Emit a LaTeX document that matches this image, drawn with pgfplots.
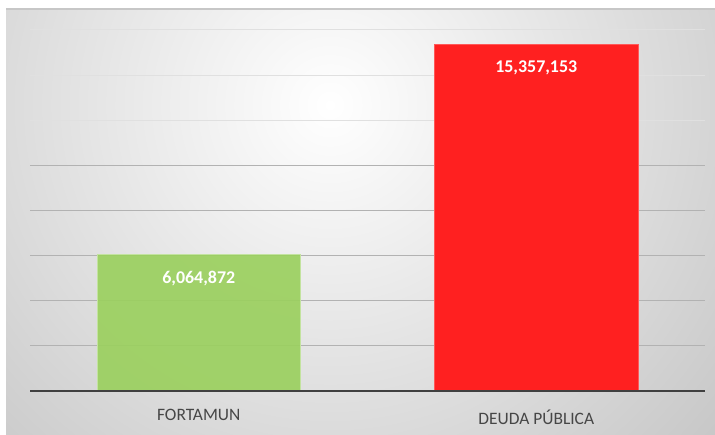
\documentclass[border=0pt]{standalone}
\usepackage{fontspec}
\setmainfont{Carlito}
\usepackage{pgfplots}
\pgfplotsset{compat=1.18}
\definecolor{bargreen}{RGB}{155,208,95}
\definecolor{barred}{RGB}{255,32,32}
\definecolor{txt}{RGB}{70,70,70}
\pgfplotstableread{
x y label
0 6064872 6,064,872
}\fortamun
\pgfplotstableread{
x y label
1 15357153 15,357,153
}\deuda
\begin{document}
\begin{tikzpicture}[x=1bp,y=1bp]
\useasboundingbox (0,0) rectangle (715,435);
\fill[white] (0,0) rectangle (715,435);
\begin{scope}
\clip (6,0) rectangle (715,426);
\shade[inner color=white, outer color=black!24] (330,330) circle (560);
\end{scope}
\draw[black!22, line width=1.5bp] (6,426) -- (715,426);
\begin{axis}[
  at={(30bp,44bp)}, anchor=south west,
  scale only axis, width=675bp, height=361bp,
  xmin=-0.5, xmax=1.5, ymin=0, ymax=16000000,
  scaled y ticks=false,
  axis line style={draw=none},
  major tick length=0,
  xtick={0,1},
  xticklabels={FORTAMUN, DEUDA PÚBLICA},
  xticklabel style={font=\fontsize{17.5}{19}\selectfont, text=txt, yshift=-15bp},
  ytick={12000000,14000000,16000000},
  yticklabels={},
  extra y ticks={2000000,4000000,6000000,8000000,10000000},
  extra y tick labels={},
  extra y tick style={grid style={black!30, line width=1bp}},
  ymajorgrids,
  grid style={black!12, line width=1bp},
  ybar, bar width=0.604, bar shift=0,
  point meta=explicit symbolic,
  nodes near coords,
  every node near coord/.append style={font=\bfseries\fontsize{18}{18}\selectfont, text=white, anchor=north, yshift=-13bp},
  clip=false,
]
\addplot[fill=bargreen, fill opacity=0.92, draw=bargreen!60!white, line width=0.6bp, text opacity=1] table[x=x, y=y, meta=label]{\fortamun};
\addplot[fill=barred, draw=barred!75!white, line width=0.6bp] table[x=x, y=y, meta=label]{\deuda};
\draw[black!75, line width=1.6bp] (rel axis cs:0,0) -- (rel axis cs:1,0);
\end{axis}
\end{tikzpicture}
\end{document}
